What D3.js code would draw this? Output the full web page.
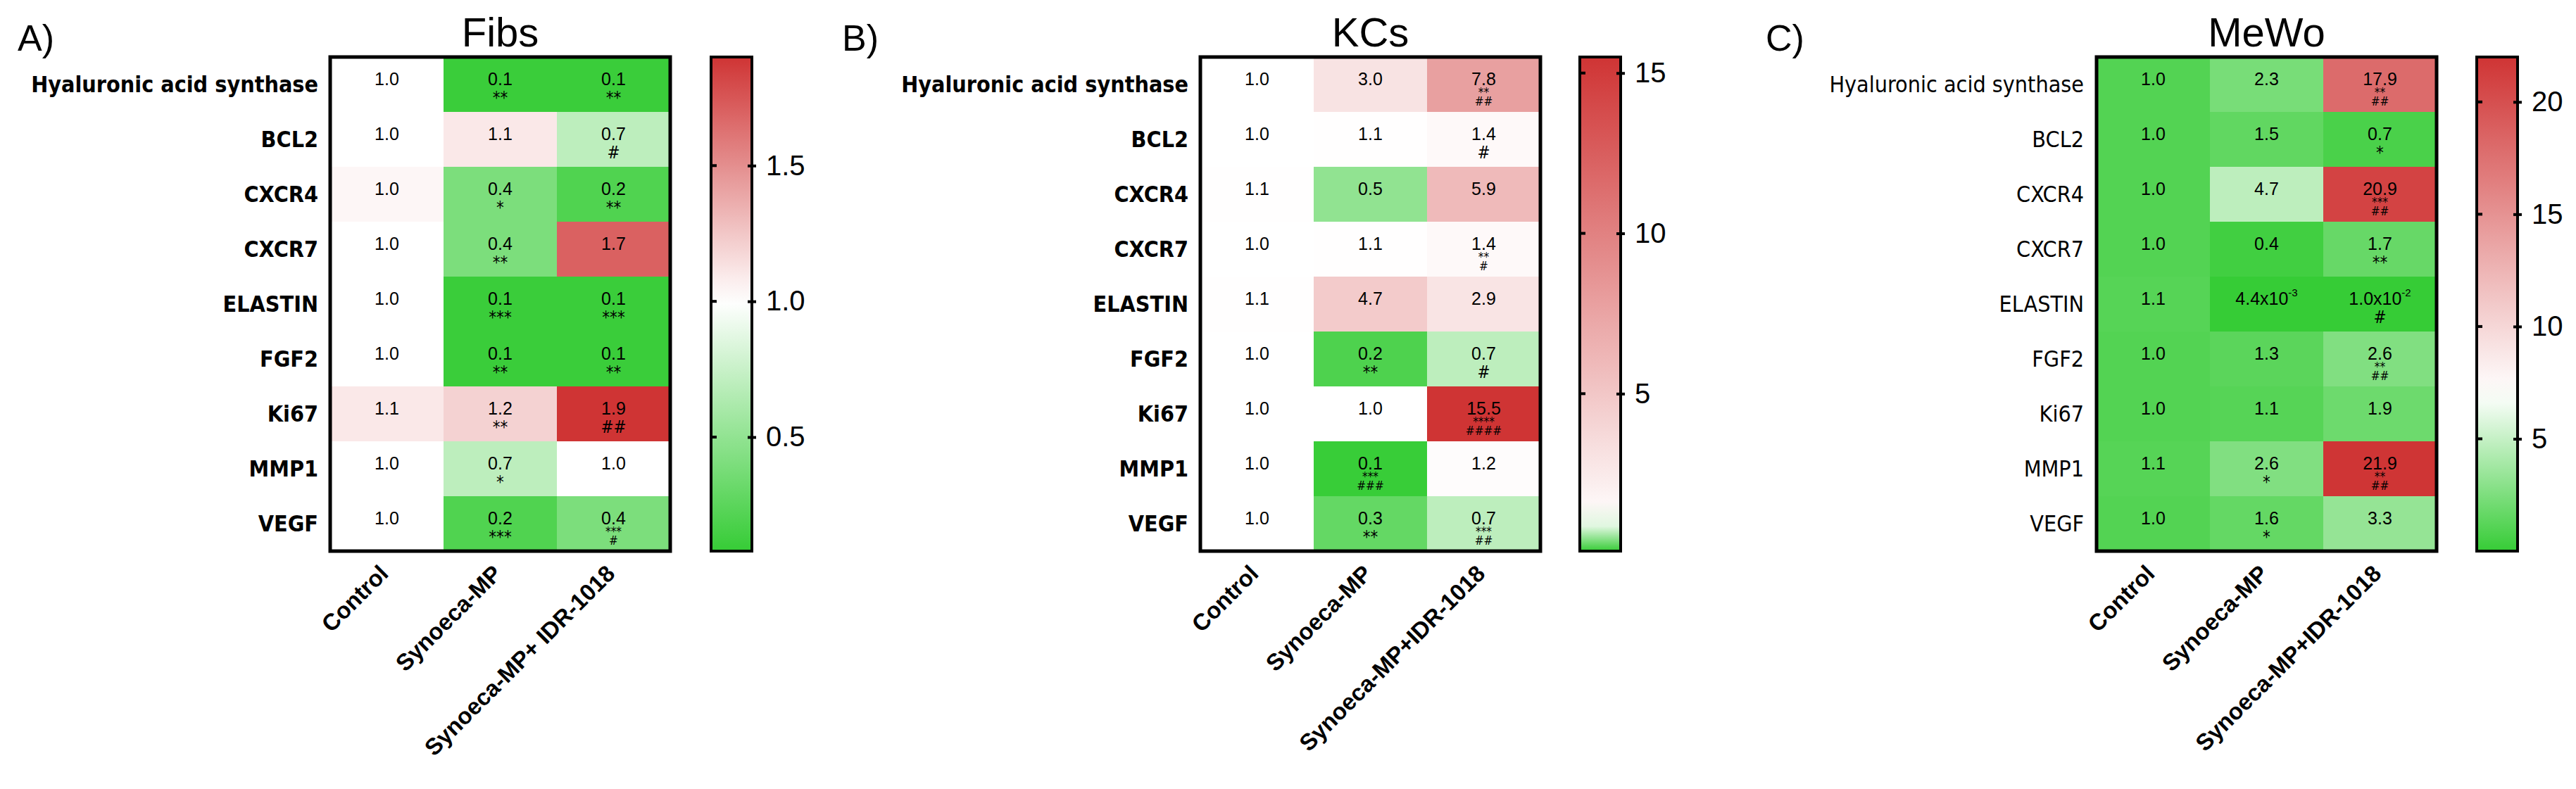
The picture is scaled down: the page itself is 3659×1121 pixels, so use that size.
<!DOCTYPE html>
<html><head><meta charset="utf-8">
<script src="https://cdn.jsdelivr.net/npm/d3@7"></script>
<style>
body{margin:0;background:#fff}
text{font-family:"Liberation Sans Narrow","DejaVu Sans Condensed","Liberation Sans",sans-serif;fill:#000}
</style></head>
<body><svg id="chart" width="3659" height="1121"></svg>
<script>
var genes = ["Hyaluronic acid synthase","BCL2","CXCR4","CXCR7","ELASTIN","FGF2","Ki67","MMP1","VEGF"];
var groups = ["Control","Synoeca-MP","Synoeca-MP+ IDR-1018"];
var groupsBC = ["Control","Synoeca-MP","Synoeca-MP+IDR-1018"];

// values per gene: [control, synoeca, synoeca+idr]
var fibsValues = [[1.0,0.1,0.1],[1.0,1.1,0.7],[1.04,0.4,0.2],[1.0,0.4,1.7],[1.0,0.1,0.1],[1.0,0.1,0.1],[1.1,1.2,1.9],[1.0,0.7,1.0],[1.0,0.2,0.4]];
var fibsLabels = [["1.0","0.1","0.1"],["1.0","1.1","0.7"],["1.0","0.4","0.2"],["1.0","0.4","1.7"],["1.0","0.1","0.1"],["1.0","0.1","0.1"],["1.1","1.2","1.9"],["1.0","0.7","1.0"],["1.0","0.2","0.4"]];
var fibsSig = [["","**","**"],["","","#"],["","*","**"],["","**",""],["","***","***"],["","**","**"],["","**","##"],["","*",""],["","***","***|#"]];

var kcsValues = [[1.0,3.0,7.8],[1.0,1.1,1.4],[1.1,0.5,5.9],[1.0,1.1,1.4],[1.1,4.7,2.9],[1.0,0.2,0.7],[1.0,1.0,15.5],[1.0,0.1,1.2],[1.0,0.3,0.7]];
var kcsLabels = [["1.0","3.0","7.8"],["1.0","1.1","1.4"],["1.1","0.5","5.9"],["1.0","1.1","1.4"],["1.1","4.7","2.9"],["1.0","0.2","0.7"],["1.0","1.0","15.5"],["1.0","0.1","1.2"],["1.0","0.3","0.7"]];
var kcsSig = [["","","**|##"],["","","#"],["","",""],["","","**|#"],["","",""],["","**","#"],["","","****|####"],["","***|###",""],["","**","***|##"]];

var mewoValues = [[1.0,2.3,17.9],[1.0,1.5,0.7],[1.0,4.7,20.9],[1.0,0.4,1.7],[1.1,0.0044,0.01],[1.0,1.3,2.6],[1.0,1.1,1.9],[1.1,2.6,21.9],[1.0,1.6,3.3]];
var mewoLabels = [["1.0","2.3","17.9"],["1.0","1.5","0.7"],["1.0","4.7","20.9"],["1.0","0.4","1.7"],["1.1","4.4x10^-3","1.0x10^-2"],["1.0","1.3","2.6"],["1.0","1.1","1.9"],["1.1","2.6","21.9"],["1.0","1.6","3.3"]];
var mewoSig = [["","","**|##"],["","","*"],["","","***|##"],["","","**"],["","","#"],["","","**|##"],["","",""],["","*","**|##"],["","*",""]];

var panels = [
  {tag:"A)", title:"Fibs", x0:469, tagX:25, labelX:452, bold:true, cbX:1010, dom:[0.08,1.0,1.9], ticks:[0.5,1.0,1.5], fmt:d3.format(".1f"),
   values:fibsValues, labels:fibsLabels, sig:fibsSig, cols:groups},
  {tag:"B)", title:"KCs", x0:1705, tagX:1196, labelX:1688, bold:true, cbX:2244, dom:[0.09,1.0,15.5], ticks:[5,10,15], fmt:d3.format("d"),
   values:kcsValues, labels:kcsLabels, sig:kcsSig, cols:groupsBC},
  {tag:"C)", title:"MeWo", x0:2978, tagX:2508, labelX:2960, bold:false, cbX:3518, dom:[0.0,7.0,22.0], ticks:[5,10,15,20], fmt:d3.format("d"),
   values:mewoValues, labels:mewoLabels, sig:mewoSig, cols:groupsBC}
];

var svg = d3.select("#chart");
var topY = 81, hmH = 702, hmW = 483, cbW = 58;
var sans = "'Liberation Sans',Arial,sans-serif";

panels.forEach(function(p) {
  var g = svg.append("g");
  var color = d3.scaleLinear().domain(p.dom).range(["#36cc36","#ffffff","#cf3434"]).clamp(true);
  var xs = d3.scaleBand().domain(d3.range(3)).range([p.x0, p.x0 + hmW]);
  var ys = d3.scaleBand().domain(genes).range([topY, topY + hmH]);

  g.append("text").attr("x", p.tagX).attr("y", 72).attr("font-size", 52).text(p.tag).style("font-family", sans);
  g.append("text").attr("x", p.x0 + hmW / 2).attr("y", 66).attr("text-anchor", "middle")
    .attr("font-size", 58).text(p.title).style("font-family", sans);

  genes.forEach(function(gene, i) {
    for (var j = 0; j < 3; j++) {
      var cx = xs(j) + xs.bandwidth() / 2, cy = ys(gene);
      g.append("rect").attr("x", xs(j)).attr("y", cy).attr("width", xs.bandwidth() + 0.5)
        .attr("height", ys.bandwidth() + 0.5).attr("fill", color(p.values[i][j]));
      var lab = p.labels[i][j];
      var t = g.append("text").attr("x", cx).attr("y", cy + 40).attr("text-anchor", "middle")
        .attr("font-size", 25).style("font-family", sans);
      if (lab.indexOf("^") >= 0) {
        var parts = lab.split("^");
        t.append("tspan").text(parts[0]);
        t.append("tspan").attr("dy", -12).attr("font-size", 15).text(parts[1]);
      } else t.text(lab);
      var s = p.sig[i][j];
      if (s) {
        var lines = s.split("|");
        lines.forEach(function(l, k) {
          g.append("text").attr("x", cx).attr("y", cy + (lines.length > 1 ? 56 + k * 13 : 66))
            .attr("text-anchor", "middle").attr("font-size", lines.length > 1 ? 17 : 24).text(l);
        });
      }
    }
    g.append("text").attr("x", p.labelX).attr("y", ys(gene) + ys.bandwidth() / 2 + 11)
      .attr("text-anchor", "end").attr("font-size", 32).attr("font-weight", p.bold ? "bold" : "normal").text(gene);
  });

  g.append("rect").attr("x", p.x0).attr("y", topY).attr("width", hmW).attr("height", hmH)
    .attr("fill", "none").attr("stroke", "#000").attr("stroke-width", 5);

  p.cols.forEach(function(c, j) {
    var ax = xs(j) + xs.bandwidth() / 2 + 4, ay = topY + hmH + 34;
    g.append("text").attr("transform", "translate(" + ax + "," + ay + ") rotate(-45)")
      .attr("text-anchor", "end").attr("font-size", 33).attr("font-weight", "bold")
      .style("font-family", sans).text(c);
  });

  // colour bar
  var cy = d3.scaleLinear().domain([p.dom[0], p.dom[2]]).range([topY + hmH, topY]);
  var gid = "grad" + p.tag[0];
  var grad = svg.append("defs").append("linearGradient").attr("id", gid)
    .attr("x1", 0).attr("y1", 1).attr("x2", 0).attr("y2", 0);
  d3.range(0, 1.0001, 0.05).forEach(function(f) {
    var v = p.dom[0] + f * (p.dom[2] - p.dom[0]);
    grad.append("stop").attr("offset", f).attr("stop-color", color(v));
  });
  g.append("rect").attr("x", p.cbX).attr("y", topY).attr("width", cbW).attr("height", hmH)
    .attr("fill", "url(#" + gid + ")").attr("stroke", "#000").attr("stroke-width", 4);
  p.ticks.forEach(function(t) {
    g.append("line").attr("x1", p.cbX).attr("x2", p.cbX + 8).attr("y1", cy(t)).attr("y2", cy(t)).attr("stroke", "#000").attr("stroke-width", 4);
  });
  var ax = g.append("g").attr("transform", "translate(" + (p.cbX + cbW - 6) + ",0)")
    .call(d3.axisRight(cy).tickValues(p.ticks).tickFormat(p.fmt).tickSize(12).tickPadding(14));
  ax.select(".domain").remove();
  ax.selectAll("line").attr("stroke-width", 4);
  ax.selectAll("text").attr("font-size", 40).style("font-family", "'Liberation Sans Narrow','Liberation Sans',sans-serif");
});
</script></body></html>
